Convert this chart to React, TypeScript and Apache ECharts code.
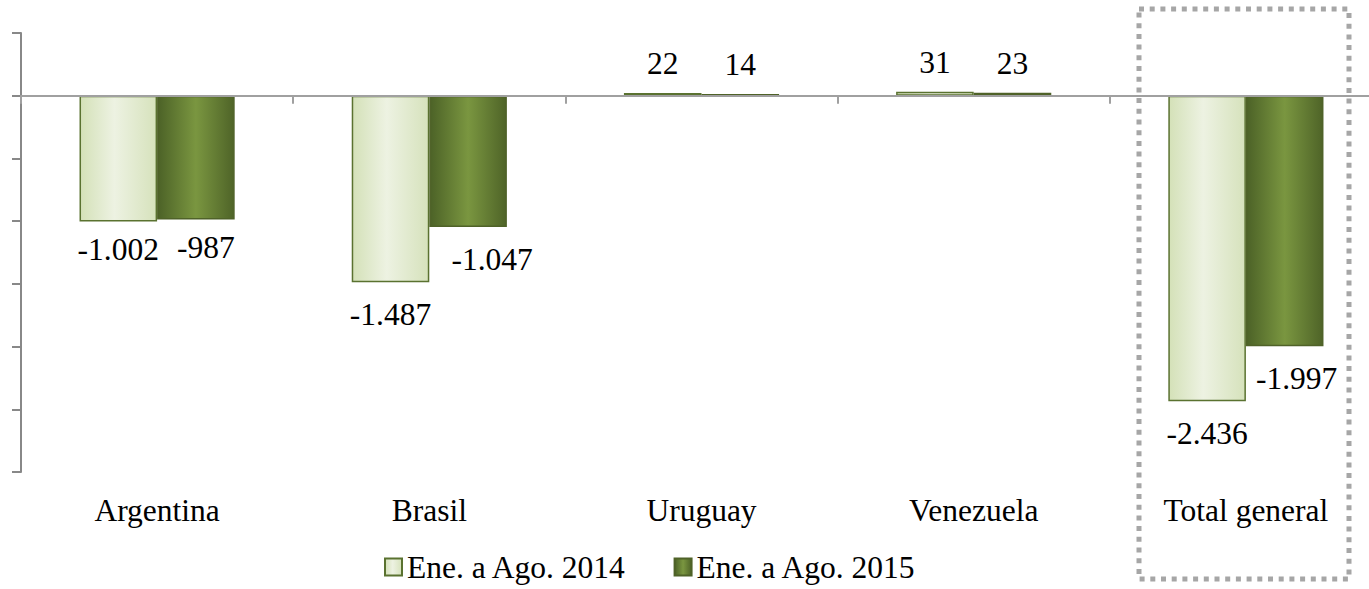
import React, { useEffect, useRef } from "react";
import * as echarts from "echarts";

const categories = ["Argentina", "Brasil", "Uruguay", "Venezuela", "Total general"];
const seriesNames = ["Ene. a Ago. 2014", "Ene. a Ago. 2015"];
const values2014 = [-1002, -1487, 22, 31, -2436];
const values2015 = [-987, -1047, 14, 23, -1997];

// manual label nudges (style only), [dx, dy] per category
const labelOffsets2014 = [[0, -4], [0, 0], [0, 0], [0, 0], [0, 0]];
const labelOffsets2015 = [[10, -4], [24, 0], [0, 0], [0, 0], [12, 0]];

const FONT_FAMILY = '"Liberation Serif", "Times New Roman", serif';
const FS = 31.5;
const FONT = `${FS}px ${FONT_FAMILY}`;
const CAT_GAP = 0.43;

function fmt(v: number): string {
  const s = Math.abs(v).toString().replace(/\B(?=(\d{3})+(?!\d))/g, ".");
  return (v < 0 ? "-" : "") + s;
}

const lightGrad = new echarts.graphic.LinearGradient(0, 0, 1, 0, [
  { offset: 0, color: "#d4e1b8" },
  { offset: 0.45, color: "#edf2e2" },
  { offset: 1, color: "#d6e2bc" },
]);
const darkGrad = new echarts.graphic.LinearGradient(0, 0, 1, 0, [
  { offset: 0, color: "#4c6227" },
  { offset: 0.5, color: "#7a9640" },
  { offset: 1, color: "#4f6428" },
]);

function labelSeries(vals: number[], offs: number[][], side: number) {
  return {
    type: "custom",
    xAxisIndex: 0,
    yAxisIndex: 0,
    z: 20,
    silent: true,
    data: vals.map((v, i) => [i, v]),
    encode: { x: 0, y: 1 },
    renderItem: (params: any, api: any) => {
      const i = api.value(0);
      const v = api.value(1);
      const pt = api.coord([i, v]);
      const band = api.size([1, 0])[0];
      const barW = (band * (1 - CAT_GAP)) / 2;
      const off = offs[params.dataIndex] || [0, 0];
      return {
        type: "text",
        x: pt[0] + (side * barW) / 2 + off[0],
        y: pt[1] + (v < 0 ? 32 : -29) + off[1],
        style: {
          text: fmt(v),
          font: FONT,
          fill: "#000",
          align: "center",
          verticalAlign: "middle",
        },
      };
    },
  };
}

export default function App() {
  const ref = useRef<HTMLDivElement>(null);
  useEffect(() => {
    if (!ref.current) return;
    const chart = echarts.init(ref.current, undefined, { renderer: "svg" });
    chart.setOption({
      animation: false,
      backgroundColor: "#fff",
      textStyle: { fontFamily: FONT_FAMILY },
      grid: { left: 21, top: 33, width: 1361, height: 439, containLabel: false },
      legend: {
        left: 379,
        top: 546,
        itemWidth: 17,
        itemHeight: 17,
        itemGap: 47,
        icon: "rect",
        textStyle: { fontFamily: FONT_FAMILY, fontSize: FS, color: "#000" },
        data: seriesNames,
      },
      xAxis: [
        {
          type: "category",
          data: categories,
          position: "bottom",
          z: 5,
          axisLine: { onZero: true, lineStyle: { color: "#a0a0a0", width: 2 } },
          axisTick: { show: true, length: 8, lineStyle: { color: "#a0a0a0", width: 2 } },
          axisLabel: { show: false },
          splitLine: { show: false },
        },
        {
          type: "category",
          data: categories,
          position: "bottom",
          axisLine: { show: false, onZero: false },
          axisTick: { show: false },
          axisLabel: { show: true, margin: 22, color: "#000", fontFamily: FONT_FAMILY, fontSize: FS },
          splitLine: { show: false },
        },
      ],
      yAxis: {
        type: "value",
        min: -3000,
        max: 500,
        interval: 500,
        axisLine: { show: true, onZero: false, lineStyle: { color: "#888", width: 2 } },
        axisTick: { show: true, length: 9, lineStyle: { color: "#888", width: 2 } },
        axisLabel: { show: false },
        splitLine: { show: false },
      },
      series: [
        {
          name: seriesNames[0],
          type: "bar",
          xAxisIndex: 0,
          barGap: "0%",
          barCategoryGap: CAT_GAP * 100 + "%",
          itemStyle: { color: lightGrad, borderColor: "#5a7230", borderWidth: 1.5 },
          data: values2014,
        },
        {
          name: seriesNames[1],
          type: "bar",
          xAxisIndex: 0,
          barGap: "0%",
          barCategoryGap: CAT_GAP * 100 + "%",
          itemStyle: { color: darkGrad, borderColor: "#4f6228", borderWidth: 1.5 },
          data: values2015,
        },
        labelSeries(values2014, labelOffsets2014, -1),
        labelSeries(values2015, labelOffsets2015, 1),
      ],
      graphic: [
        {
          type: "rect",
          shape: { x: 1139, y: 9, width: 210, height: 570 },
          style: { fill: "none", stroke: "#a6a6a6", lineWidth: 5, lineDash: [5, 5.7] },
          z: 10,
        },
      ],
    });
    return () => chart.dispose();
  }, []);
  return (
    <div style={{ position: "fixed", left: 0, top: 0, width: 1369, height: 589, overflow: "hidden" }}>
      <div ref={ref} style={{ width: 1395, height: 589 }} />
    </div>
  );
}
